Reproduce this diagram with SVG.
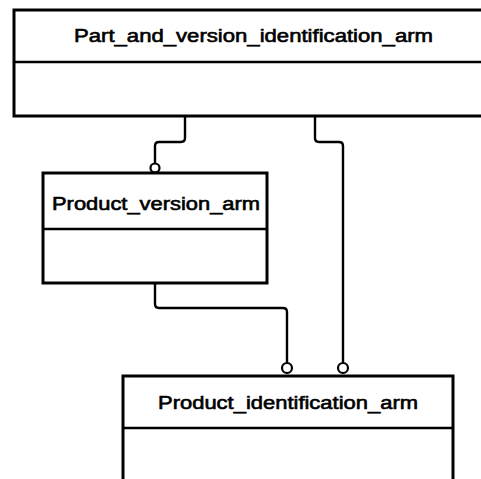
<svg xmlns="http://www.w3.org/2000/svg" width="481" height="479" viewBox="0 0 481 479">
<style>
.box{fill:#fff;stroke:#000;stroke-width:3}
.div{stroke:#000;stroke-width:2.5}
.lbl{font-family:"Liberation Sans",Arial,sans-serif;font-size:18px;fill:#000;stroke:#000;stroke-width:0.6}
.con{fill:none;stroke:#000;stroke-width:2.4}
.end{fill:#fff;stroke:#000;stroke-width:2.2}
</style>
<rect width="481" height="479" fill="#fff"/>
<g id="connectors">
<path class="con" d="M185,116 V138 Q185,142 181,142 H159 Q155,142 155,146 V163"/>
<path class="con" d="M315,116 V138 Q315,142 319,142 H339 Q343,142 343,146 V363"/>
<path class="con" d="M155,283 V304 Q155,308 159,308 H283 Q287,308 287,312 V363"/>
<circle class="end" cx="155" cy="168" r="4.5"/>
<circle class="end" cx="287" cy="368" r="5"/>
<circle class="end" cx="343" cy="368" r="5"/>
</g>
<g id="Part_and_version_identification_arm">
<rect class="box" x="14" y="10" width="480" height="106"/>
<line class="div" x1="14" y1="62" x2="481" y2="62"/>
<text class="lbl" x="74" y="42" textLength="359" lengthAdjust="spacingAndGlyphs">Part_and_version_identification_arm</text>
</g>
<g id="Product_version_arm">
<rect class="box" x="43" y="173" width="224" height="110"/>
<line class="div" x1="43" y1="229" x2="267" y2="229"/>
<text class="lbl" x="52" y="210" textLength="208" lengthAdjust="spacingAndGlyphs">Product_version_arm</text>
</g>
<g id="Product_identification_arm">
<rect class="box" x="123" y="376" width="330" height="110"/>
<line class="div" x1="123" y1="428" x2="453" y2="428"/>
<text class="lbl" x="158" y="409" textLength="260" lengthAdjust="spacingAndGlyphs">Product_identification_arm</text>
</g>
</svg>
